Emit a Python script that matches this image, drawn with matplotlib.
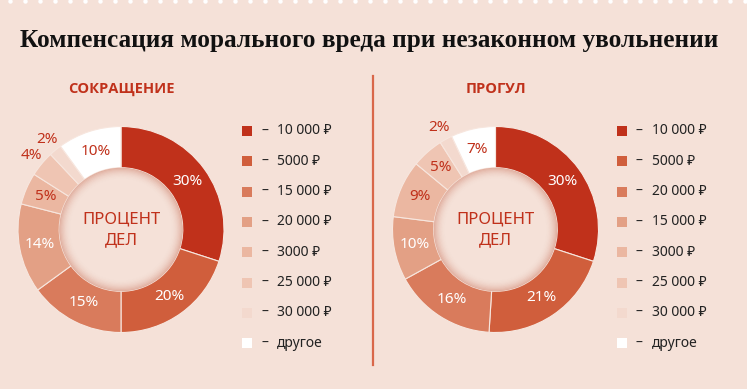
import matplotlib.pyplot as plt
import numpy as np
from matplotlib.patches import Wedge, Rectangle
from matplotlib.lines import Line2D

W, H = 747, 389
bg = '#f5e1d8'
red = '#c0311b'

title = 'Компенсация морального вреда при незаконном увольнении'

# левая диаграмма
left_name = 'СОКРАЩЕНИЕ'
left_labels = ['10 000 ₽', '5000 ₽', '15 000 ₽', '20 000 ₽', '3000 ₽', '25 000 ₽', '30 000 ₽', 'другое']
left_vals = [30, 20, 15, 14, 5, 4, 2, 10]

# правая диаграмма
right_name = 'ПРОГУЛ'
right_labels = ['10 000 ₽', '5000 ₽', '20 000 ₽', '15 000 ₽', '3000 ₽', '25 000 ₽', '30 000 ₽', 'другое']
right_vals = [30, 21, 16, 10, 9, 5, 2, 7]

colors = ['#c0311b', '#d05e3c', '#d97b5c', '#e3a085', '#ebb7a1', '#efc5b3', '#f3d9ce', '#ffffff']
# цвет подписи: белый на тёмных, красный на светлых
lab_white = [True, True, True, True, False, False, False, False]

sans = ['Noto Sans', 'DejaVu Sans']

fig = plt.figure(figsize=(W / 100, H / 100), dpi=100)
fig.patch.set_facecolor(bg)

# зубчики сверху
xs = np.arange(10, W, 15)
fig.add_artist(Line2D(xs / W, np.ones_like(xs) * (1 - 0.5 / H), transform=fig.transFigure,
                      ls='none', marker='o', ms=3.2, mfc='white', mec='none'))

fig.text(369 / W, 1 - 40 / H, title, ha='center', va='center', fontsize=18.2,
         fontweight='bold', family='Liberation Serif', color='#111111')

# разделитель
fig.add_artist(Line2D([373 / W, 373 / W], [1 - 76 / H, 1 - 365 / H], transform=fig.transFigure,
                      color='#d9674a', lw=1.6))


def donut(cx, cy, vals, name, labels, leg_x):
    size = 250
    ax = fig.add_axes([(cx - size / 2) / W, 1 - (cy + size / 2) / H, size / W, size / H])
    ax.set_facecolor('none')
    rin = 0.6
    wedges, _ = ax.pie(vals, colors=colors, startangle=90, counterclock=False, radius=1,
                       wedgeprops=dict(width=1 - rin, edgecolor='#f7e6de', linewidth=0.8))
    lim = size / 2 / 103
    ax.set_xlim(-lim, lim)
    ax.set_ylim(-lim, lim)
    ax.set_aspect('equal')
    ax.axis('off')
    # тень внутри кольца
    n = 10
    for i in range(n):
        r = rin - i * 0.011
        ax.add_patch(Wedge((0, 0), r, 0, 360, width=0.011, facecolor='#b8492c',
                           alpha=0.32 * (1 - i / n) ** 2, lw=0))
    ax.text(0, 0.1, 'ПРОЦЕНТ', ha='center', va='center', fontsize=12, color=red, family=sans)
    ax.text(0, -0.1, 'ДЕЛ', ha='center', va='center', fontsize=12, color=red, family=sans)
    cum = np.cumsum([0] + vals)
    for i, v in enumerate(vals):
        mid = (cum[i] + cum[i + 1]) / 2 / 100
        ang = np.deg2rad(90 - mid * 360)
        if v <= 4:
            r = 1.13
        else:
            r = 0.8
        c = 'white' if lab_white[i] else red
        if v <= 4:
            c = red
        ax.text(r * np.cos(ang), r * np.sin(ang), f'{v}%', ha='center', va='center',
                fontsize=11, color=c, family=sans)
    fig.text(cx / W, 1 - 89 / H, name, ha='center', va='center', fontsize=10.5,
             fontweight='bold', color=red, family=['Open Sans', 'DejaVu Sans'])
    # легенда
    for i, (lab, col) in enumerate(zip(labels, colors)):
        y = 131 + i * 30.3
        fig.add_artist(Rectangle(((leg_x - 5) / W, 1 - (y + 5) / H), 10 / W, 10 / H,
                                 transform=fig.transFigure, facecolor=col, edgecolor='none'))
        fig.text((leg_x + 14) / W, 1 - y / H, '–', ha='left', va='center', fontsize=10,
                 color='#222222', family=sans)
        fig.text((leg_x + 30) / W, 1 - y / H, lab, ha='left', va='center', fontsize=10,
                 color='#222222', family=sans)


donut(121, 229.5, left_vals, left_name, left_labels, 247)
donut(495.5, 229.5, right_vals, right_name, right_labels, 622)

fig.savefig('out.png', dpi=100, facecolor=bg)
